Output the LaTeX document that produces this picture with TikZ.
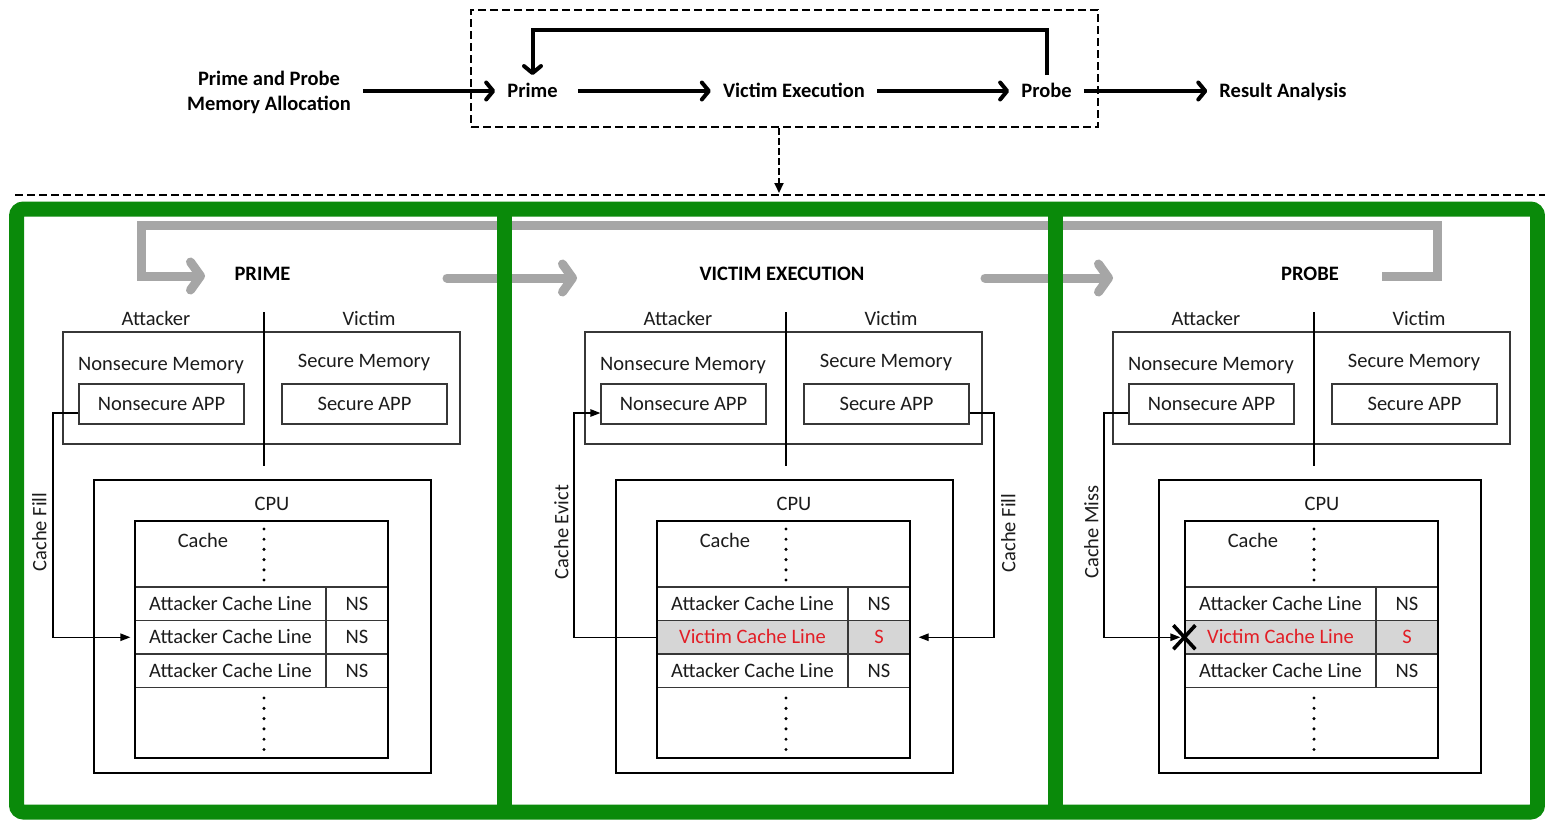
\documentclass[tikz,border=0pt]{standalone}
\usepackage{fontspec}
\setmainfont{Carlito}
\usetikzlibrary{arrows.meta}

\definecolor{frame}{RGB}{10,138,10}
\definecolor{loopgray}{RGB}{166,166,166}
\definecolor{ink}{RGB}{28,28,28}
\definecolor{hitred}{RGB}{226,30,38}
\definecolor{rowshade}{RGB}{214,214,214}
\definecolor{boxline}{RGB}{55,55,55}

\tikzset{
  base/.style={font=\fontsize{20.5pt}{24pt}\selectfont, text=ink, inner sep=0pt,
               text height=14pt, text depth=1.5pt},
  heading/.style={base, font=\fontsize{20.5pt}{24pt}\selectfont\bfseries, text=black},
  steptxt/.style={heading, inner xsep=12pt, inner ysep=8pt},
  alloctxt/.style={font=\fontsize{20.5pt}{25pt}\selectfont\bfseries, align=center,
                   inner xsep=12pt, inner ysep=0pt},
  stagebox/.style={draw=black, line width=1.8pt, dash pattern=on 8pt off 4pt,
                   minimum width=627pt, minimum height=117pt, inner sep=0pt},
  flow/.style={line width=4pt, -{Straight Barb[length=7pt,width=17pt,round]}},
  dasharrow/.style={line width=2pt, dash pattern=on 7pt off 3pt,
                    -{Triangle[length=10pt,width=9pt]}},
  loop/.style={draw=loopgray, line width=9pt, -{Straight Barb[length=10pt,width=28pt,round]}},
  membox/.style={draw=boxline, line width=1.3pt, inner sep=0pt},
  appbox/.style={base, draw=boxline, line width=1.3pt, minimum width=165pt, minimum height=40pt},
  cpubox/.style={draw=black, line width=2.8pt, inner sep=0pt, minimum height=293pt},
  cachebox/.style={draw=black, line width=2.8pt, inner sep=0pt, minimum width=253pt, minimum height=237pt},
  cell/.style={base, draw=boxline, line width=1.3pt, minimum height=33.5pt},
  victimrow/.style={fill=rowshade, text=hitred},
  plainrow/.style={},
  splitline/.style={draw=black, line width=2.4pt},
  conn/.style={draw=black, line width=1.3pt, -{Triangle[length=10pt,width=7.5pt]}},
  xmark/.style={draw=black, line width=3.6pt},
}

% memory, CPU and cache of one stage
% #1 name prefix, #2 x shift, #3 CPU centre x, #4 CPU width,
% #5 style of the middle line, #6/#7 its two texts
\newcommand\stagecore[7]{%
\begin{scope}[xshift=#2pt]
  \node[base] (#1att) at (156,319) {Attacker};
  \node[base] (#1vic) at (369,319) {Victim};
  \node[membox, minimum width=397pt, minimum height=112pt] (#1mem) at (261.5,388) {};
  \node[base] (#1nsm) at (161,364) {Nonsecure Memory};
  \node[base] (#1sm) at (364,361) {Secure Memory};
  \node[appbox] (#1napp) at (161.5,404) {Nonsecure APP};
  \node[appbox] (#1sapp) at (364.5,404) {Secure APP};
  \draw[splitline] (264,312) -- (264,466);
  \node[cpubox, minimum width=#4pt] (#1cpu) at (#3,626.5) {};
  \node[base] (#1cpul) at (272,504) {CPU};
  \node[cell, minimum width=191pt] (#1r1a) at (230.5,603.75) {Attacker Cache Line};
  \node[cell, minimum width=62pt] (#1r1b) at (357,603.75) {NS};
  \node[cell, minimum width=191pt, #5] (#1r2a) at (230.5,637.25) {#6};
  \node[cell, minimum width=62pt, #5] (#1r2b) at (357,637.25) {#7};
  \node[cell, minimum width=191pt] (#1r3a) at (230.5,670.75) {Attacker Cache Line};
  \node[cell, minimum width=62pt] (#1r3b) at (357,670.75) {NS};
  \node[cachebox] (#1cache) at (261.5,639.5) {};
  \node[base] (#1cachel) at (203,541) {Cache};
  \foreach \k in {0,...,5} {
    \fill (264,529+10.2*\k) circle (1.7pt);
    \fill (264,698+10.3*\k) circle (1.7pt);
  }
\end{scope}}

\begin{document}
\begin{tikzpicture}[x=1pt, y=-1pt]
\useasboundingbox (0,0) rectangle (1545,820);
\fill[white] (0,0) rectangle (1545,820);

% ---------- attack flow ----------
\node[stagebox] (loopbox) at (784.5,68.5) {};
\node[alloctxt] (alloc) at (269,92) {Prime and Probe\\Memory Allocation};
\node[steptxt] (prime) at (532.5,91) {Prime};
\node[steptxt] (victim) at (794,91) {Victim Execution};
\node[steptxt] (probe) at (1046.5,91) {Probe};
\node[steptxt] (result) at (1283,91) {Result Analysis};

\draw[flow] (alloc.east |- prime.west) -- (prime.west);
\draw[flow, shorten <=8pt] (prime) -- (victim);
\draw[flow] (victim) -- (probe);
\draw[flow] (probe) -- (result);
\coordinate (looptop) at (0,30);
\draw[flow] (probe.north) -- (probe.north |- looptop) -| (prime.north);

\coordinate (drop) at (779,193);
\draw[dasharrow] (drop |- loopbox.south) -- (drop);
\draw[line width=2.2pt, dash pattern=on 8pt off 4pt] (15,195) -- (1545,195);

% ---------- stage cycle ----------
\draw[loop, line cap=butt] (1382,276) -- (1437,276) -- (1437,225) -- (141,225) -- (141,276) -- (205,276);
\draw[loop, line cap=round] (447,278) -- (577,278);
\draw[loop, line cap=round] (985,278) -- (1113,278);

% ---------- stage frames ----------
\draw[frame, line width=15pt, rounded corners=7pt] (16.5,209) rectangle (1537.5,812);
\draw[frame, line width=15pt] (504,209) -- (504,812);
\draw[frame, line width=15pt] (1055,209) -- (1055,812);

\node[heading] (t1) at (262.5,274) {PRIME};
\node[heading] (t2) at (782,274) {VICTIM EXECUTION};
\node[heading] (t3) at (1310,274) {PROBE};

% ---------- stages ----------
\stagecore{p1}{0}{262.5}{337}{plainrow}{Attacker Cache Line}{NS}
\stagecore{p2}{522}{262.5}{337}{victimrow}{Victim Cache Line}{S}
\stagecore{p3}{1050}{270}{322}{victimrow}{Victim Cache Line}{S}

% prime: cache fill
\coordinate (p1s) at ([yshift=-9pt]p1napp.west);
\coordinate (p1lx) at (53,0);
\draw[conn, shorten >=4pt] (p1s) -- (p1s -| p1lx) |- (p1r2a.west);
\node[base, rotate=90] (p1lab) at (40,532) {Cache Fill};

% victim execution: cache evict and cache fill
\coordinate (p2s) at ([yshift=-9pt]p2napp.west);
\coordinate (p2lx) at (574,0);
\draw[conn] (p2r2a.west) -- (p2r2a.west -| p2lx) |- (p2s);
\node[base, rotate=90] (p2lab) at (562,532) {Cache Evict};
\coordinate (p2t) at ([yshift=-9pt]p2sapp.east);
\coordinate (p2rx) at (994,0);
\draw[conn, shorten >=8pt] (p2t) -- (p2t -| p2rx) |- (p2r2b.east);
\node[base, rotate=90] (p2rlab) at (1009,533) {Cache Fill};

% probe: cache miss
\coordinate (p3s) at ([yshift=-9pt]p3napp.west);
\coordinate (p3lx) at (1104,0);
\draw[conn, shorten >=4pt] (p3s) -- (p3s -| p3lx) |- (p3r2a.west);
\node[base, rotate=90] (p3lab) at (1092,532) {Cache Miss};
\draw[xmark] (p3r2a.west) ++(-11,-12) -- ++(22,24);
\draw[xmark] (p3r2a.west) ++(-11,12) -- ++(22,-24);
\end{tikzpicture}
\end{document}
